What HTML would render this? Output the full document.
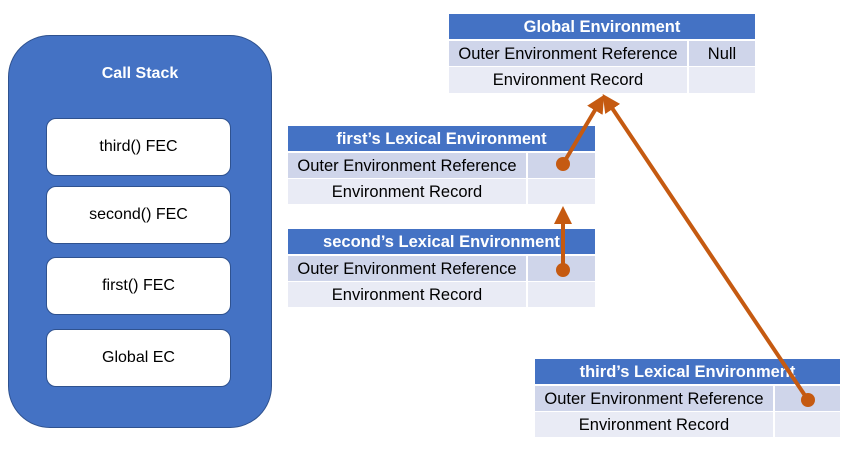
<!DOCTYPE html>
<html><head><style>
body{margin:0;width:848px;height:459px;background:#fff;position:relative;overflow:hidden;font-family:"Liberation Sans","Noto Sans CJK KR",sans-serif;}
.abs{position:absolute;box-sizing:border-box;}
.stack{left:8px;top:35px;width:264px;height:393px;background:#4472c4;border:1px solid #2f528f;border-radius:42px;}
.st{left:8px;top:65px;width:264px;text-align:center;color:#fff;font-weight:bold;font-size:16px;}
.fb{left:46px;width:185px;height:58px;background:#fff;border:1px solid #2f528f;border-radius:10px;display:flex;align-items:center;justify-content:center;font-size:16px;color:#000;}
.hd{background:#4472c4;color:#fff;font-weight:bold;font-size:16.5px;display:flex;align-items:center;justify-content:center;height:25px;padding-top:2px;}
.r{display:flex;align-items:center;justify-content:center;font-size:16.5px;color:#000;padding-top:1px;}
.r1{background:#cfd5ea;}.r2{background:#e9ebf5;}
</style></head><body>
<div class="abs stack"></div>
<div class="abs st">Call Stack</div>
<div class="abs fb" style="top:118px">third() FEC</div>
<div class="abs fb" style="top:186px">second() FEC</div>
<div class="abs fb" style="top:257px">first() FEC</div>
<div class="abs fb" style="top:329px">Global EC</div>

<div class="abs hd" style="left:449px;top:14px;width:306px">Global Environment</div>
<div class="abs r r1" style="left:449px;top:41px;width:238px;height:25px">Outer Environment Reference</div>
<div class="abs r r1" style="left:689px;top:41px;width:66px;height:25px">Null</div>
<div class="abs r r2" style="left:449px;top:67px;width:238px;height:26px">Environment Record</div>
<div class="abs r r2" style="left:689px;top:67px;width:66px;height:26px"></div>

<div class="abs hd" style="left:288px;top:126px;width:307px">first’s Lexical Environment</div>
<div class="abs r r1" style="left:288px;top:153px;width:238px;height:25px">Outer Environment Reference</div>
<div class="abs r r1" style="left:528px;top:153px;width:67px;height:25px"></div>
<div class="abs r r2" style="left:288px;top:179px;width:238px;height:25px">Environment Record</div>
<div class="abs r r2" style="left:528px;top:179px;width:67px;height:25px"></div>

<div class="abs hd" style="left:288px;top:229px;width:307px">second’s Lexical Environment</div>
<div class="abs r r1" style="left:288px;top:256px;width:238px;height:25px">Outer Environment Reference</div>
<div class="abs r r1" style="left:528px;top:256px;width:67px;height:25px"></div>
<div class="abs r r2" style="left:288px;top:282px;width:238px;height:25px">Environment Record</div>
<div class="abs r r2" style="left:528px;top:282px;width:67px;height:25px"></div>

<div class="abs hd" style="left:535px;top:359px;width:305px">third’s Lexical Environment</div>
<div class="abs r r1" style="left:535px;top:386px;width:238px;height:25px">Outer Environment Reference</div>
<div class="abs r r1" style="left:775px;top:386px;width:65px;height:25px"></div>
<div class="abs r r2" style="left:535px;top:412px;width:238px;height:25px">Environment Record</div>
<div class="abs r r2" style="left:775px;top:412px;width:65px;height:25px"></div>

<svg class="abs" style="left:0;top:0" width="848" height="459">
<defs><marker id="a" markerWidth="4.5" markerHeight="4.5" refX="3" refY="2.25" orient="auto" markerUnits="strokeWidth"><path d="M0,0 L4.5,2.25 L0,4.5 z" fill="#c55a11"/></marker></defs>
<g stroke="#c55a11" stroke-width="4" fill="none">
<line x1="563" y1="164" x2="601" y2="100" marker-end="url(#a)"/>
<line x1="563" y1="270" x2="563" y2="212" marker-end="url(#a)"/>
<line x1="808" y1="400" x2="606" y2="99" marker-end="url(#a)"/>
</g>
<g fill="#c55a11"><circle cx="563" cy="164" r="7"/><circle cx="563" cy="270" r="7"/><circle cx="808" cy="400" r="7"/></g>
</svg>
</body></html>
